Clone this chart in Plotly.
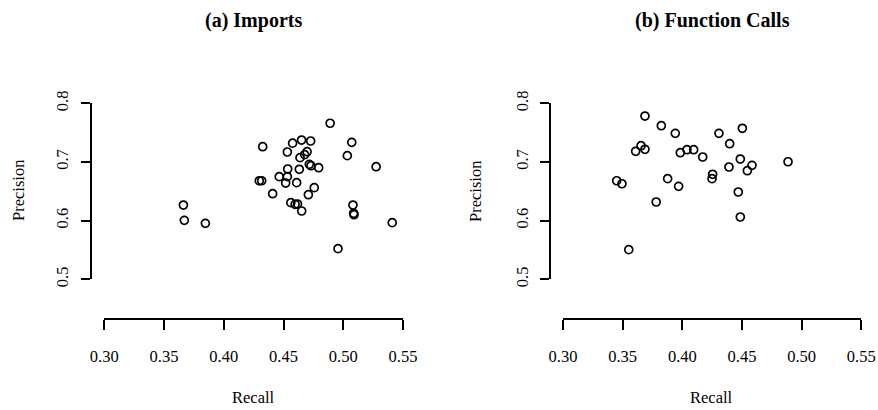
import plotly.graph_objects as go

# ---- data ----
imports_recall = [0.489, 0.4326, 0.4576, 0.4651, 0.4727, 0.5071, 0.4532, 0.4697, 0.4677, 0.4638,
                  0.5034, 0.4716, 0.4730, 0.4794, 0.5275, 0.4535, 0.4632, 0.4464, 0.4532, 0.4297,
                  0.4317, 0.4518, 0.4610, 0.4757, 0.4409, 0.4708, 0.4561, 0.4597, 0.4617, 0.4652,
                  0.5081, 0.5087, 0.5090, 0.541, 0.4956, 0.3662, 0.3670, 0.3846]
imports_precision = [0.766, 0.726, 0.732, 0.7374, 0.7357, 0.7335, 0.717, 0.7175, 0.7124, 0.7073,
                     0.7107, 0.696, 0.6936, 0.6902, 0.6919, 0.688, 0.6875, 0.6749, 0.6749, 0.668,
                     0.668, 0.6641, 0.6647, 0.6562, 0.6459, 0.6442, 0.6306, 0.6278, 0.6283, 0.6164,
                     0.6266, 0.6125, 0.6101, 0.5965, 0.5522, 0.6266, 0.6005, 0.5954]

calls_recall = [0.3794, 0.4243, 0.3687, 0.3824, 0.4503, 0.3941, 0.4307, 0.4397, 0.3654, 0.3609,
                0.3687, 0.3983, 0.4039, 0.4095, 0.4171, 0.4486, 0.4391, 0.4584, 0.4545, 0.4886,
                0.4254, 0.4249, 0.3450, 0.3494, 0.3877, 0.3969, 0.4469, 0.3781, 0.4486, 0.3551]
calls_precision = [0.8147, 0.8107, 0.7783, 0.7618, 0.7574, 0.7488, 0.7488, 0.7311, 0.7277, 0.7182,
                   0.7216, 0.7158, 0.7209, 0.7209, 0.7085, 0.7050, 0.6914, 0.6943, 0.6851, 0.7004,
                   0.679, 0.6715, 0.668, 0.6629, 0.6715, 0.6585, 0.6488, 0.6318, 0.6062, 0.5505]

panel_titles = ["<b>(a) Imports</b>", "<b>(b) Function Calls</b>"]
x_ticks = [0.30, 0.35, 0.40, 0.45, 0.50, 0.55]
x_ticklabels = ["0.30", "0.35", "0.40", "0.45", "0.50", "0.55"]
y_ticks = [0.5, 0.6, 0.7, 0.8]
y_ticklabels = ["0.5", "0.6", "0.7", "0.8"]

W, H = 878, 410
FONT = "Liberation Serif, Times New Roman, serif"

def px(x):
    return x / W

def py(y):
    return 1 - y / H

marker = dict(symbol="circle-open", size=8, color="black", line=dict(width=1.7, color="black"))

fig = go.Figure()
fig.add_trace(go.Scatter(x=imports_recall, y=imports_precision, mode="markers",
                         marker=marker, xaxis="x", yaxis="y", showlegend=False, cliponaxis=False))
fig.add_trace(go.Scatter(x=calls_recall, y=calls_precision, mode="markers",
                         marker=marker, xaxis="x2", yaxis="y2", showlegend=False, cliponaxis=False))

common_x = dict(range=[0.30, 0.55], tickvals=x_ticks, ticktext=x_ticklabels,
                showline=True, linecolor="black", linewidth=1.5, ticks="outside",
                ticklen=10, tickwidth=1.5, tickcolor="black", showgrid=False, zeroline=False,
                tickfont=dict(family=FONT, size=16.5, color="black"), automargin=False,
                ticklabelstandoff=12, anchor="free", position=py(319.3))
common_y = dict(range=[0.5, 0.8], tickvals=y_ticks, ticktext=y_ticklabels,
                showline=True, linecolor="black", linewidth=1.5, ticks="outside",
                ticklen=9, tickwidth=1.5, tickcolor="black", showgrid=False, zeroline=False,
                tickfont=dict(family=FONT, size=16.5, color="black"), tickangle=-90,
                automargin=False,
                ticklabelstandoff=6, anchor="free", domain=[py(279.3), py(103.3)])

fig.update_layout(
    template="none",
    width=W, height=H, margin=dict(l=0, r=0, t=0, b=0, pad=0, autoexpand=False),
    plot_bgcolor="white", paper_bgcolor="white",
    xaxis=dict(common_x, domain=[px(104.3), px(403)]),
    xaxis2=dict(common_x, domain=[px(563), px(861.3)]),
    yaxis=dict(common_y, position=px(90.7)),
    yaxis2=dict(common_y, position=px(550)),
)

annots = []
for cx, title in zip([253.5, 712], panel_titles):
    annots.append(dict(text=title, x=px(cx), y=py(20), xref="paper", yref="paper",
                       xanchor="center", yanchor="middle", showarrow=False,
                       font=dict(family=FONT, size=20, color="black")))
for cx in [253.5, 711.5]:
    annots.append(dict(text="Recall", x=px(cx), y=py(397.4), xref="paper", yref="paper",
                       xanchor="center", yanchor="middle", showarrow=False,
                       font=dict(family=FONT, size=16.5, color="black")))
for cx in [18, 475]:
    annots.append(dict(text="Precision", x=px(cx), y=py(191), xref="paper", yref="paper",
                       xanchor="center", yanchor="middle", showarrow=False, textangle=-90,
                       font=dict(family=FONT, size=16.5, color="black")))
fig.update_layout(annotations=annots)

fig.write_html("out.html")
